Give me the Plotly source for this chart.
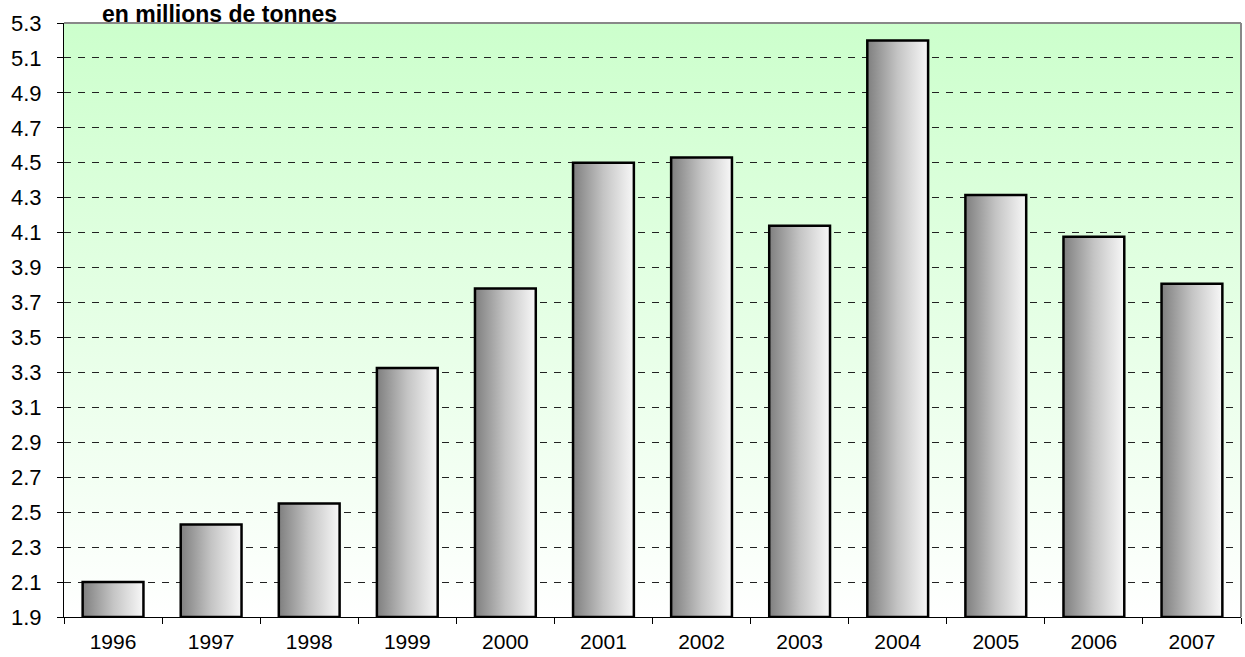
import base64
import plotly.graph_objects as go

years = ["1996", "1997", "1998", "1999", "2000", "2001", "2002", "2003", "2004", "2005", "2006", "2007"]
values = [2.10, 2.43, 2.55, 3.325, 3.78, 4.50, 4.53, 4.14, 5.20, 4.315, 4.077, 3.808]
y_ticks = [1.9, 2.1, 2.3, 2.5, 2.7, 2.9, 3.1, 3.3, 3.5, 3.7, 3.9, 4.1, 4.3, 4.5, 4.7, 4.9, 5.1, 5.3]
title_text = "en millions de tonnes"

Y_MIN, Y_MAX = 1.9, 5.3
HALF = 0.31
FONT = "Liberation Sans, Arial, sans-serif"

fig = go.Figure()

for i, (yr, v) in enumerate(zip(years, values)):
    fig.add_trace(go.Scatter(
        x=[i - HALF, i - HALF, i + HALF, i + HALF, i - HALF],
        y=[Y_MIN, v, v, Y_MIN, Y_MIN],
        mode="lines",
        fill="toself",
        fillgradient=dict(type="horizontal",
                          colorscale=[[0, "#7f7f7f"], [0.5, "#c4c4c4"], [1, "#f8f8f8"]]),
        line=dict(color="black", width=2.5),
        name=yr,
        hoverinfo="skip",
        showlegend=False,
    ))

svg = ('<svg xmlns="http://www.w3.org/2000/svg" width="100" height="100" preserveAspectRatio="none">'
       '<defs><linearGradient id="g" x1="0" y1="0" x2="0" y2="1">'
       '<stop offset="0" stop-color="#ccffcc"/><stop offset="1" stop-color="#ffffff"/>'
       '</linearGradient></defs><rect width="100" height="100" fill="url(#g)"/></svg>')
src = "data:image/svg+xml;base64," + base64.b64encode(svg.encode()).decode()

fig.update_layout(
    width=1245, height=657,
    margin=dict(l=64, r=4, t=23, b=40),
    paper_bgcolor="white",
    plot_bgcolor="rgba(0,0,0,0)",
    font=dict(family=FONT, size=20, color="black"),
    images=[dict(source=src, xref="paper", yref="paper", x=0, y=1, sizex=1, sizey=1,
                 sizing="stretch", layer="below", xanchor="left", yanchor="top")],
    xaxis=dict(
        range=[-0.5, len(years) - 0.5],
        tickmode="array", tickvals=list(range(len(years))), ticktext=years,
        ticks="", showgrid=False, zeroline=False, automargin=False,
        showline=True, linecolor="black", linewidth=1,
        minor=dict(tickmode="linear", tick0=-0.5, dtick=1, ticks="outside",
                   ticklen=6, tickcolor="black", showgrid=False),
        ticklabelstandoff=6,
        tickfont=dict(size=21),
    ),
    yaxis=dict(
        range=[Y_MIN, Y_MAX],
        tickmode="array", tickvals=y_ticks, ticktext=[f"{t:.1f}" for t in y_ticks],
        ticks="outside", ticklen=6, tickcolor="black", automargin=False,
        showline=True, linecolor="black", linewidth=1,
        showgrid=True, gridcolor="#222222", gridwidth=1, griddash="7px,7px",
        zeroline=False,
        ticklabelstandoff=11,
        tickfont=dict(size=22),
    ),
    shapes=[
        dict(type="line", xref="paper", yref="paper", x0=0, x1=1, y0=1, y1=1,
             line=dict(color="#888888", width=2)),
        dict(type="line", xref="paper", yref="paper", x0=1, x1=1, y0=0, y1=1,
             line=dict(color="#888888", width=2)),
    ],
    annotations=[dict(text="<b>" + title_text + "</b>", xref="paper", yref="paper",
                      x=0.0325, y=1, xanchor="left", yanchor="top", yshift=22.5,
                      borderpad=0, borderwidth=0,
                      showarrow=False, font=dict(size=23, family=FONT, color="black"))],
)

fig.write_html("out.html", config={"displayModeBar": False},
               post_script="document.body.style.margin='0px';")
